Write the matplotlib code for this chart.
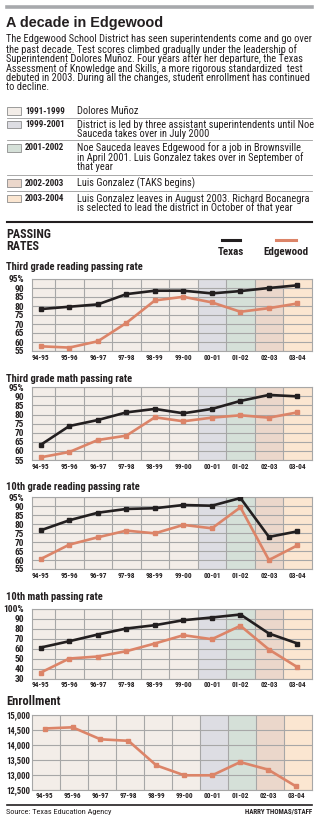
import numpy as np
import matplotlib
matplotlib.use("Agg")
import matplotlib.pyplot as plt
from matplotlib.lines import Line2D
from matplotlib.patches import Rectangle

# ======================================================
# DATA
# ======================================================

years = ["94-95", "95-96", "96-97", "97-98", "98-99",
         "99-00", "00-01", "01-02", "02-03", "03-04"]

# which superintendent era each school year is shaded with
year_era = [0, 0, 0, 0, 0, 0, 1, 2, 3, 4]

eras = ["1991-1999", "1999-2001", "2001-2002", "2002-2003", "2003-2004"]

era_notes = [
    ["Dolores Muñoz"],
    ["District is led by three assistant superintendents until Noe",
     "Sauceda takes over in July 2000"],
    ["Noe Sauceda leaves Edgewood for a job in Brownsville",
     "in April 2001. Luis Gonzalez takes over in September of",
     "that year"],
    ["Luis Gonzalez (TAKS begins)"],
    ["Luis Gonzalez leaves in August 2003. Richard Bocanegra",
     "is selected to lead the district in October of that year"],
]

body = [
    "The Edgewood School District has seen superintendents come and go over",
    "the past decade. Test scores climbed gradually under the leadership of",
    "Superintendent Dolores Muñoz. Four years after her departure, the Texas",
    "Assessment of Knowledge and Skills, a more rigorous standardized  test",
    "debuted in 2003. During all the changes, student enrollment has continued",
    "to decline.",
]

read3_texas = [78.3, 79.6, 80.9, 86.6, 88.5, 88.5, 87.0, 88.3, 90.0, 91.5]
read3_edge = [57.6, 56.9, 60.4, 70.6, 83.1, 85.1, 82.0, 76.8, 78.8, 81.4]

math3_texas = [63.4, 73.7, 77.0, 81.2, 83.1, 80.7, 83.1, 87.5, 90.8, 90.0]
math3_edge = [56.5, 59.4, 66.0, 68.4, 78.5, 76.3, 78.3, 79.6, 78.3, 81.2]

read10_texas = [76.6, 82.2, 86.4, 88.5, 88.9, 90.7, 90.3, 94.6, 72.9, 76.0]
read10_edge = [60.6, 68.6, 72.7, 76.4, 74.9, 79.6, 77.7, 89.4, 60.0, 68.2]

math10_texas = [61, 67.3, 74, 80, 83.3, 88.3, 91, 94, 75, 65]
math10_edge = [36, 50, 52, 57.3, 65, 73.3, 69.3, 82.7, 59, 41.3]

enrollment = [14550, 14590, 14190, 14140, 13320, 12990, 12990, 13430, 13180, 12620]

pct_ticks = [55, 60, 65, 70, 75, 80, 85, 90, 95]
pct_labels = ["55", "60", "65", "70", "75", "80", "85", "90", "95%"]
math10_ticks = [30, 40, 50, 60, 70, 80, 90, 100]
math10_labels = ["30", "40", "50", "60", "70", "80", "90", "100%"]
enroll_ticks = [12500, 13000, 13500, 14000, 14500, 15000]
enroll_labels = ["12,500", "13,000", "13,500", "14,000", "14,500", "15,000"]

# ======================================================
# STYLE
# ======================================================

W, H = 324, 825
NARROW = ["Roboto Condensed", "DejaVu Sans Condensed", "Liberation Sans Narrow",
          "Liberation Sans", "DejaVu Sans"]
SANS = ["Liberation Sans", "DejaVu Sans"]
INK = "#231f20"
GRID = "#a7a7a7"
TEXAS = "#231f20"
EDGE = "#dc8468"
era_colors = ["#f3ede8", "#dddde3", "#d5e0d8", "#ebd7cb", "#fbe6d1"]

plt.rcParams["font.family"] = NARROW


def fx(x):
    return x / W


def fy(y):
    return 1 - y / H


fig = plt.figure(figsize=(W / 100, H / 100), dpi=100)
fig.patch.set_facecolor("white")
renderer = fig.canvas.get_renderer()


def fit_size(s, width, weight="normal", family=NARROW):
    # font size that makes s about `width` pixels wide
    t = fig.text(0, 0, s, fontsize=10, fontweight=weight, family=family)
    w = t.get_window_extent(renderer).width
    t.remove()
    return 10 * width / w


def hline(y, x0=7, x1=311.7, color=INK, lw=1.0):
    fig.add_artist(Line2D([fx(x0), fx(x1)], [fy(y), fy(y)],
                          color=color, lw=lw, transform=fig.transFigure))


def text(x, y, s, size, weight="normal", ha="left", family=NARROW, color=INK):
    fig.text(fx(x), fy(y), s, fontsize=size, fontweight=weight, ha=ha,
             va="center", family=family, color=color)


# ======================================================
# HEADER
# ======================================================

hline(6.5, color="#a7a9ac", lw=2.6)
text(6.5, 23, "A decade in Edgewood", fit_size("A decade in Edgewood", 157, "bold", SANS),
     "bold", family=SANS)

body_size = fit_size(body[0], 305)
for i, line in enumerate(body):
    text(6.5, 39.5 + i * 9.6, line, body_size)

note_size = fit_size(era_notes[1][0], 234)
era_size = fit_size(eras[0], 40, "bold")
row_y = [111, 124.5, 148, 183, 198.5]
sep_y = [117.5, 140, 175, 190.5]
for i, (era, notes) in enumerate(zip(eras, era_notes)):
    y = row_y[i]
    fig.add_artist(Rectangle((fx(7), fy(y + 3.6)), fx(14), 7.2 / H,
                             facecolor=era_colors[i], edgecolor="#8c8c8c",
                             lw=0.6, transform=fig.transFigure))
    text(25, y, era, era_size, "bold")
    for j, note in enumerate(notes):
        text(77, y + j * 9.5, note, note_size)
for y in sep_y:
    hline(y, color="#9a9a9a", lw=0.6)

hline(221.7, lw=1.5)
head_size = fit_size("PASSING", 45, "bold")
text(6.5, 235, "PASSING", head_size, "bold")
text(6.5, 246.5, "RATES", head_size, "bold")

fig.add_artist(Line2D([fx(221.7), fx(240)], [fy(240), fy(240)], color=TEXAS,
                      lw=2.2, transform=fig.transFigure))
fig.add_artist(Line2D([fx(276), fx(296)], [fy(240), fy(240)], color=EDGE,
                      lw=2.2, transform=fig.transFigure))
key_size = fit_size("Edgewood", 45, "bold")
text(231, 251.5, "Texas", key_size, "bold", ha="center")
text(286, 251.5, "Edgewood", key_size, "bold", ha="center")

# ======================================================
# PANELS
# ======================================================

xtick_size = fit_size("94-95", 17.5, "bold")
ytick_size = fit_size("90", 9.5, "bold")
title_size = fit_size("Third grade reading passing rate", 138, "bold")


def panel(top, bottom, title, title_y, series, ticks, labels, shift, xlo, ypad,
          tsize=title_size, ysize=ytick_size):
    ax = fig.add_axes([fx(32.3), fy(bottom), fx(311.7 - 32.3), (bottom - top) / H])
    x = np.arange(len(years))
    for i in x:
        ax.axvspan(i - 0.5 + shift, i + 0.5 + shift, color=era_colors[year_era[i]],
                   lw=0, zorder=0)
    for vals, color in series:
        ax.plot(x, vals, color=color, lw=1.9, marker="s", markersize=2.4,
                solid_joinstyle="miter", zorder=3)
    ax.set_xlim(xlo, 9.5 + shift)
    ax.set_ylim(ticks[0], ticks[-1])
    ax.set_xticks(x, labels=years)
    ax.set_xticks(x[:-1] + 0.5 + shift, minor=True)
    ax.set_yticks(ticks, labels=labels)
    ax.grid(which="minor", axis="x", color=GRID, lw=0.8)
    ax.grid(which="major", axis="y", color=GRID, lw=0.8)
    ax.grid(which="major", axis="x", visible=False)
    ax.tick_params(which="both", length=0)
    ax.tick_params(axis="x", pad=1.8, labelsize=xtick_size, labelcolor=INK)
    ax.tick_params(axis="y", pad=ypad, labelsize=ysize, labelcolor=INK)
    for lab in ax.get_xticklabels() + ax.get_yticklabels():
        lab.set_fontweight("bold")
    for s in ax.spines.values():
        s.set_color(GRID)
        s.set_linewidth(0.8)
    text(6.5, title_y, title, tsize, "bold")
    return ax


panel(279, 351, "Third grade reading passing rate", 267.5,
      [(read3_texas, TEXAS), (read3_edge, EDGE)], pct_ticks, pct_labels, 0, -0.3, 5.8)
panel(387.3, 460, "Third grade math passing rate", 379,
      [(math3_texas, TEXAS), (math3_edge, EDGE)], pct_ticks, pct_labels, 0, -0.3, 5.8)
panel(497.3, 569, "10th grade reading passing rate", 487.5,
      [(read10_texas, TEXAS), (read10_edge, EDGE)], pct_ticks, pct_labels, 0, -0.3, 5.8)
panel(608.5, 678.5, "10th math passing rate", 597.3,
      [(math10_texas, TEXAS), (math10_edge, EDGE)], math10_ticks, math10_labels,
      0, -0.3, 5.8)
panel(715, 790, "Enrollment", 701.5,
      [(enrollment, EDGE)], enroll_ticks, enroll_labels, 0.06, -0.44, 1.2,
      tsize=fit_size("Enrollment", 54, "bold"), ysize=fit_size("15,000", 24, "bold"))

# ======================================================
# FOOTER
# ======================================================

hline(805, lw=1.2)
text(6.5, 812, "Source: Texas Education Agency",
     fit_size("Source: Texas Education Agency", 105))
text(311.7, 812, "HARRY THOMAS/STAFF",
     fit_size("HARRY THOMAS/STAFF", 68, "bold"), "bold", ha="right")

fig.savefig("out.png", dpi=100)
